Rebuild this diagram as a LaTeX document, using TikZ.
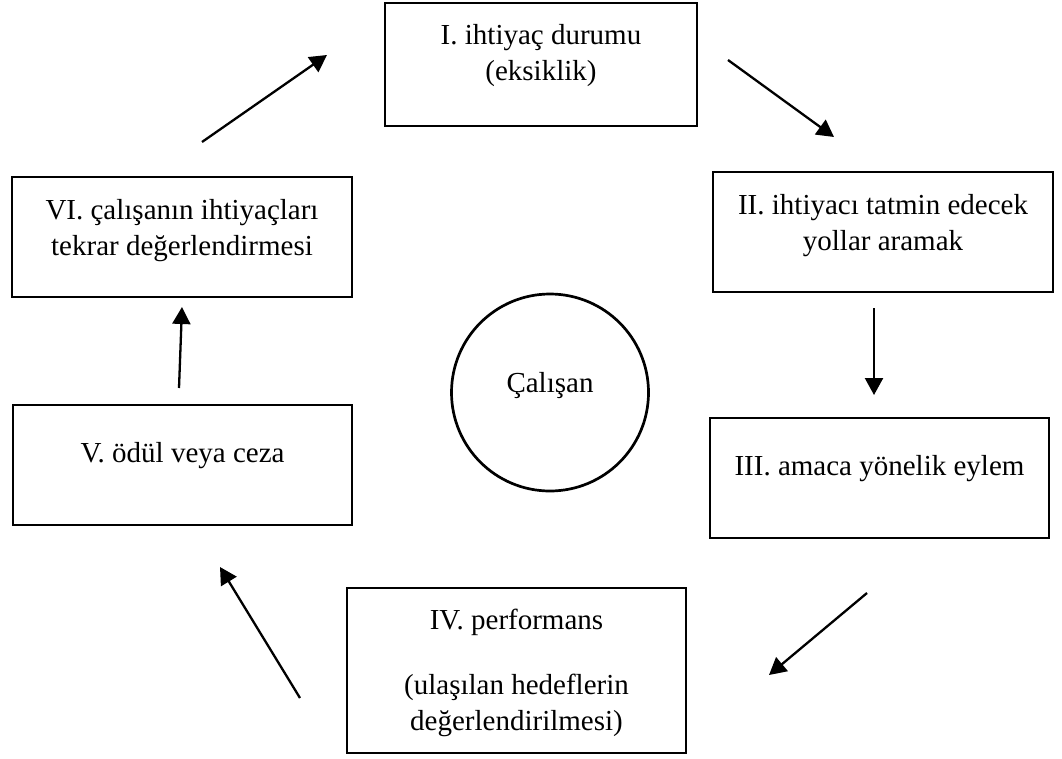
\documentclass[tikz,border=0pt]{standalone}
\usepackage{fontspec}
\setmainfont{Liberation Serif}
\usetikzlibrary{arrows.meta}

\tikzset{every picture/.style={line width=2.7pt}}
\tikzset{
  stage/.style={draw, rectangle, line width=2.7pt, align=center, inner sep=0pt,
    font=\fontsize{29}{36}\selectfont, text height=20pt},
  twolines/.style={text height=56pt},
  flowarrow/.style={line width=2.3pt, -{Triangle[length=17pt,width=18pt]}},
}

\begin{document}
\begin{tikzpicture}[x=1pt,y=1pt,yscale=-1,xscale=1]
\useasboundingbox (0,0) rectangle (1062,758);

%Shape: Rectangle
\node[stage, twolines, minimum width=312pt, minimum height=123pt, text depth=24pt] (need) at (541,64.5) {I. ihtiyaç durumu\\(eksiklik)};
%Shape: Rectangle
\node[stage, twolines, minimum width=340pt, minimum height=120pt, text depth=20pt] (search) at (883,232) {II. ihtiyacı tatmin edecek\\yollar aramak};
%Shape: Rectangle
\node[stage, minimum width=339pt, minimum height=120pt, text depth=26pt] (action) at (879.5,478) {III. amaca yönelik eylem};
%Shape: Rectangle
\node[stage, text height=121pt, minimum width=339pt, minimum height=165pt, text depth=2pt] (perf) at (516.5,670.5) {IV. performans\\[29pt](ulaşılan hedeflerin\\değerlendirilmesi)};
%Shape: Rectangle
\node[stage, minimum width=339pt, minimum height=120pt, text depth=26pt] (reward) at (182.5,465) {V. ödül veya ceza};
%Shape: Rectangle
\node[stage, twolines, minimum width=340pt, minimum height=120pt, text depth=20pt] (reassess) at (182,237) {VI. çalışanın ihtiyaçları\\tekrar değerlendirmesi};
%Shape: Circle
\node[draw, circle, line width=2.7pt, inner sep=0pt, minimum size=197pt, font=\fontsize{29}{36}\selectfont, text height=20pt, text depth=20pt] (worker) at (550,392.5) {Çalışan};

%Straight Lines
\coordinate (a61s) at (202,142);  \coordinate (a61e) at (327,55);
\coordinate (a12s) at (728,60);   \coordinate (a12e) at (834,137);
\coordinate (a23s) at (874,308);  \coordinate (a23e) at (874,395);
\coordinate (a34s) at (867,593);  \coordinate (a34e) at (769,675);
\coordinate (a45s) at (300,698);  \coordinate (a45e) at (220,567);
\coordinate (a56s) at (179,388);  \coordinate (a56e) at (182,307);
\draw[flowarrow] (a61s) -- (a61e);
\draw[flowarrow] (a12s) -- (a12e);
\draw[flowarrow] (a23s) -- (a23e);
\draw[flowarrow] (a34s) -- (a34e);
\draw[flowarrow] (a45s) -- (a45e);
\draw[flowarrow] (a56s) -- (a56e);

\end{tikzpicture}
\end{document}
